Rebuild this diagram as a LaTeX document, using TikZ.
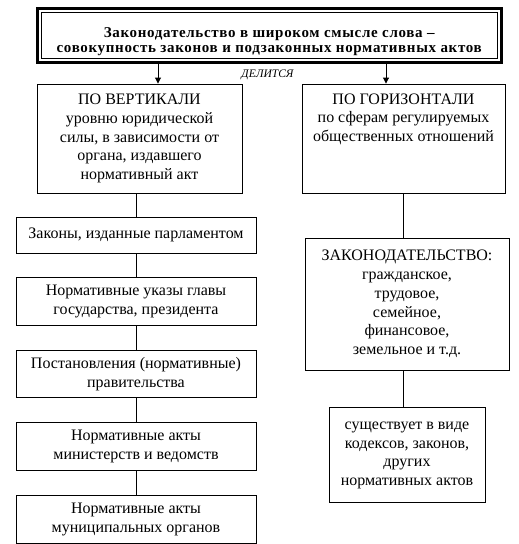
\documentclass[tikz,border=0pt]{standalone}
\usepackage{fontspec}
\setmainfont{Liberation Serif}
\usetikzlibrary{arrows.meta,positioning,fit}

\begin{document}
\begin{tikzpicture}[
  x=1pt, y=1pt,
  node distance=24pt,
  font=\fontsize{16}{18.8}\selectfont,
  box/.style={
    draw, align=center, inner sep=2pt, line width=0.9pt,
    minimum height=36pt},
  lvl/.style={box, minimum width=240pt},
  title/.style={
    draw, inner sep=0pt, line width=0.9pt, minimum width=455.5pt,
    minimum height=45.5pt,
    font=\fontsize{15}{15}\selectfont\bfseries\addfontfeature{LetterSpace=4.5}},
  frame/.style={draw, line width=3.5pt, inner sep=3.8pt},
  arr/.style={-{Triangle[length=6pt,width=6pt]}, line width=0.9pt},
  link/.style={line width=0.9pt}
]
\useasboundingbox (0,0) rectangle (519,-544);

\node[title] (law) at (269.25,-35.25)
  {\parbox[c][44pt][c]{450pt}{\centering\vspace*{13pt}%
   Законодательство в широком смысле слова –\\
   совокупность законов и подзаконных нормативных актов}};
\node[frame, fit=(law)] (frame) {};

\node[font=\fontsize{11.5}{12}\selectfont\itshape] (split) at (267.5,-74.5) {ДЕЛИТСЯ};

\node[box, minimum width=205pt, minimum height=109pt] (vert) at (139.5,-138.5)
  {ПО ВЕРТИКАЛИ\\уровню юридической\\силы, в зависимости от\\органа, издавшего\\нормативный акт};
\node[box, minimum width=203pt, minimum height=109pt, inner sep=0pt] (horiz) at (403.5,-138.5)
  {\parbox[c][90pt][t]{195pt}{\centering ПО ГОРИЗОНТАЛИ\\по сферам регулируемых\\общественных отношений}};

% by legal force
\node[lvl] (l1) at (136,-235) {Законы, изданные парламентом};
\node[lvl, below=of l1, minimum height=47.5pt] (l2) {Нормативные указы главы\\государства, президента};
\node[lvl, below=of l2, minimum height=47.5pt] (l3) {Постановления (нормативные)\\правительства};
\node[lvl, below=of l3, minimum height=47.5pt] (l4) {Нормативные акты\\министерств и ведомств};
\node[lvl, below=of l4, minimum height=48.5pt] (l5) {Нормативные акты\\муниципальных органов};

% by branch
\node[box, minimum width=204pt, minimum height=132pt] (legis) at (407,-304)
  {ЗАКОНОДАТЕЛЬСТВО:\\гражданское,\\трудовое,\\семейное,\\финансовое,\\земельное и т.д.};
\node[box, minimum width=156pt, minimum height=95pt, below=37pt of legis] (exist)
  {существует в виде\\кодексов, законов,\\других\\нормативных актов};

\coordinate (la) at ([xshift=18.5pt]vert.north);
\coordinate (ra) at ([xshift=-17.5pt]horiz.north);
\draw[arr] (la |- frame.south) -- (la);
\draw[arr] (ra |- frame.south) -- (ra);

\draw[link] (l1.north |- vert.south) -- (l1.north);
\foreach \a/\b in {l1/l2, l2/l3, l3/l4, l4/l5}
  \draw[link] (\a) -- (\b);
\draw[link] (horiz.south) -- (horiz.south |- legis.north);
\draw[link] (horiz.south |- legis.south) -- (horiz.south |- exist.north);

\end{tikzpicture}
\end{document}
